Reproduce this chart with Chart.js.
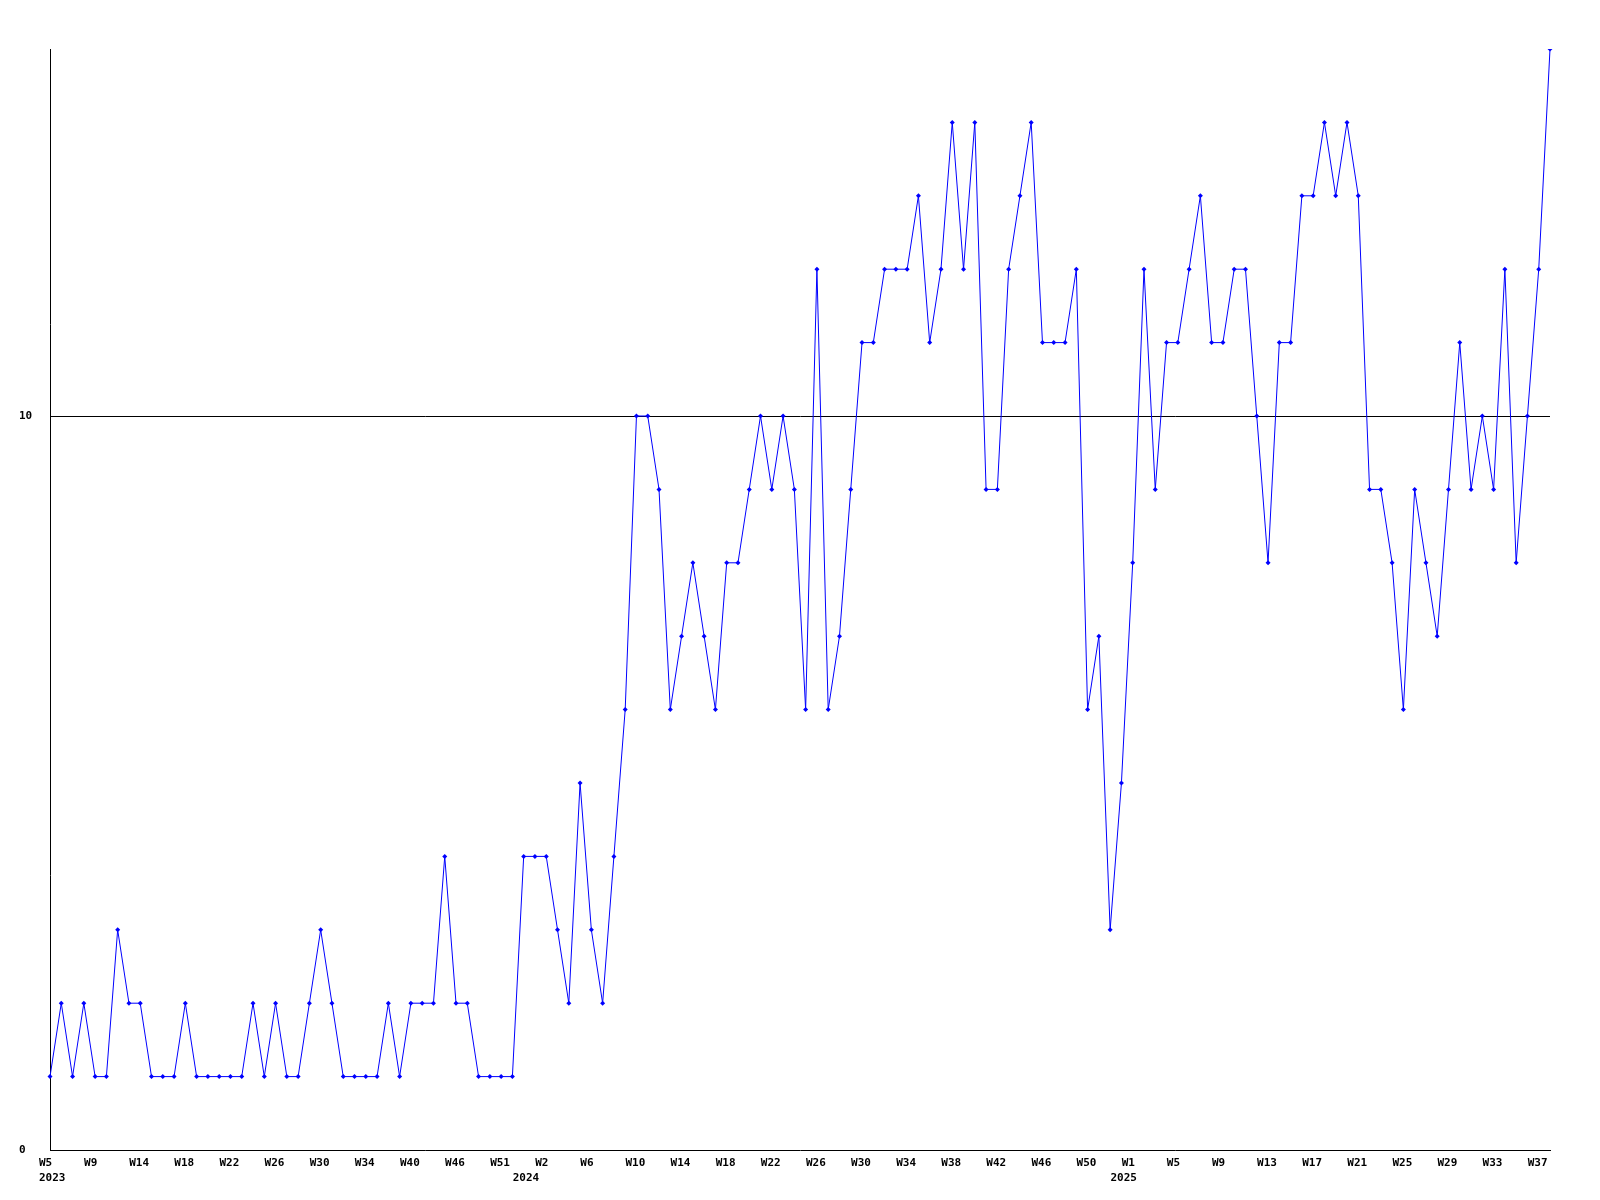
<!DOCTYPE html>
<html>
<head>
<meta charset="utf-8">
<script src="https://cdn.jsdelivr.net/npm/chart.js@4/dist/chart.umd.min.js"></script>
<style>
html, body { margin: 0; padding: 0; background: #ffffff; }
</style>
</head>
<body>
<canvas id="chart" width="1600" height="1200"></canvas>
<script>
// --- DATA --- //
// one value per point, oldest first
const values = [
  1, 2, 1, 2, 1, 1, 3, 2, 2, 1,
  1, 1, 2, 1, 1, 1, 1, 1, 2, 1,
  2, 1, 1, 2, 3, 2, 1, 1, 1, 1,
  2, 1, 2, 2, 2, 4, 2, 2, 1, 1,
  1, 1, 4, 4, 4, 3, 2, 5, 3, 2,
  4, 6, 10, 10, 9, 6, 7, 8, 7, 6,
  8, 8, 9, 10, 9, 10, 9, 6, 12, 6,
  7, 9, 11, 11, 12, 12, 12, 13, 11, 12,
  14, 12, 14, 9, 9, 12, 13, 14, 11, 11,
  11, 12, 6, 7, 3, 5, 8, 12, 9, 11,
  11, 12, 13, 11, 11, 12, 12, 10, 8, 11,
  11, 13, 13, 14, 13, 14, 13, 9, 9, 8,
  6, 9, 8, 7, 9, 11, 9, 10, 9, 12,
  8, 10, 12, 15
];

// a week label on every 4th point
const weekTicks = [
  "W5", "W9", "W14", "W18", "W22", "W26", "W30", "W34", "W40", "W46", "W51",
  "W2", "W6", "W10", "W14", "W18", "W22", "W26", "W30", "W34", "W38", "W42", "W46",
  "W50", "W1", "W5", "W9", "W13", "W17", "W21", "W25", "W29", "W33", "W37"
];
// year label under the first point of each year
const yearTickIndex = [0, 42, 95];
const yearTicks = ["2023", "2024", "2025"];
const yTicks = [0, 10];
const yMax = 15;
const LABEL_STEP = 4;

const categories = values.map((v, i) => i);
const FONT = { family: "'DejaVu Sans Mono', monospace", size: 11, weight: "bold", lineHeight: 1.4 };

new Chart(document.getElementById("chart"), {
  type: "line",
  data: {
    labels: categories,
    datasets: [{
      data: values,
      borderColor: "#0000ff",
      borderWidth: 1,
      tension: 0,
      fill: false,
      pointStyle: "rectRot",
      pointRadius: 2.5,
      pointBackgroundColor: "#0000ff",
      pointBorderColor: "#0000ff",
      pointBorderWidth: 0
    }]
  },
  options: {
    responsive: false,
    animation: false,
    devicePixelRatio: 1,
    layout: { padding: { left: 19, right: 50, top: 49, bottom: 0 } },
    plugins: { legend: { display: false }, tooltip: { enabled: false } },
    scales: {
      x: {
        type: "category",
        offset: false,
        grid: { display: false, drawTicks: false },
        border: { display: true, color: "#000000", width: 1 },
        afterFit: s => { s.height = 50; },
        ticks: {
          autoSkip: false,
          maxRotation: 0,
          minRotation: 0,
          align: "start",
          labelOffset: -11,
          padding: 5,
          color: "#000000",
          font: FONT,
          callback: (v, i) => {
            const w = i % LABEL_STEP === 0 ? (weekTicks[i / LABEL_STEP] || "") : "";
            const y = yearTickIndex.indexOf(i);
            return y >= 0 ? [w, yearTicks[y]] : w;
          }
        }
      },
      y: {
        min: 0,
        max: yMax,
        afterBuildTicks: s => { s.ticks = yTicks.map(v => ({ value: v })); },
        afterFit: s => { s.width = 31; },
        grid: {
          drawTicks: false,
          color: c => (c.tick && c.tick.value === 10) ? "#000000" : "rgba(0,0,0,0)",
          lineWidth: 1
        },
        border: { display: true, color: "#000000", width: 1 },
        ticks: {
          crossAlign: "far",
          color: "#000000",
          font: FONT
        }
      }
    }
  }
});
</script>
</body>
</html>
